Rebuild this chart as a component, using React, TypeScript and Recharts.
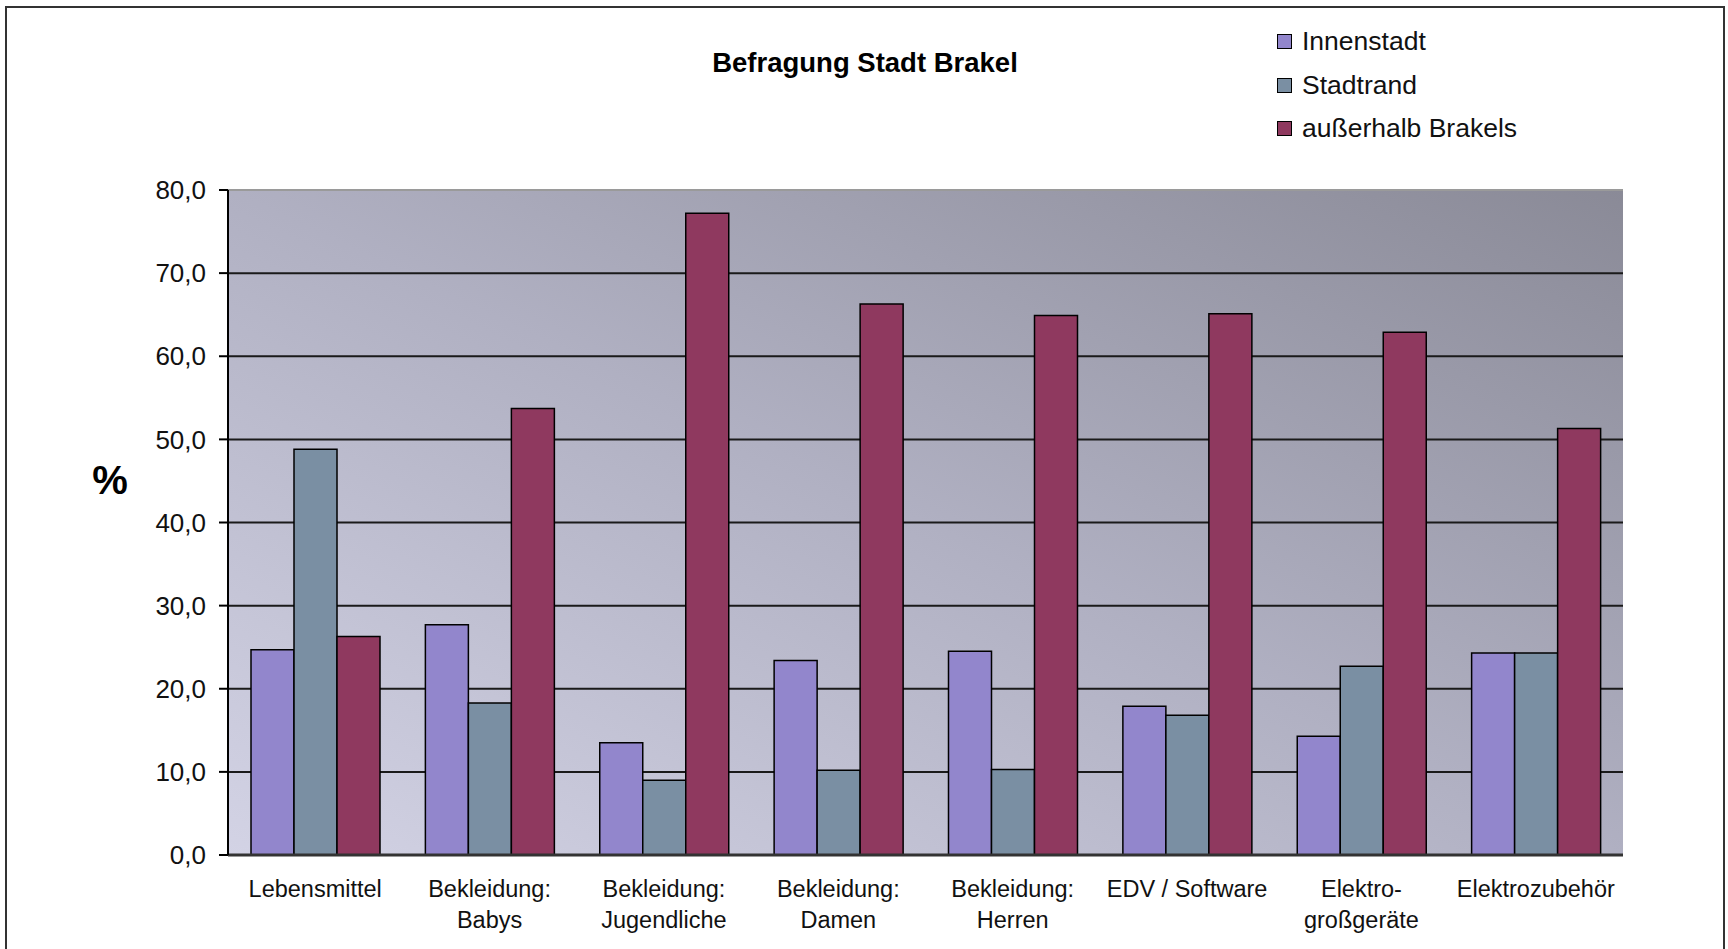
import { BarChart, Bar, XAxis, YAxis, CartesianGrid, Legend, ReferenceLine } from 'recharts'

const categories = [
  'Lebensmittel',
  'Bekleidung: Babys',
  'Bekleidung: Jugendliche',
  'Bekleidung: Damen',
  'Bekleidung: Herren',
  'EDV / Software',
  'Elektrogroßgeräte',
  'Elektrozubehör',
]
const categoryLines = [
  ['Lebensmittel'],
  ['Bekleidung:', 'Babys'],
  ['Bekleidung:', 'Jugendliche'],
  ['Bekleidung:', 'Damen'],
  ['Bekleidung:', 'Herren'],
  ['EDV / Software'],
  ['Elektro-', 'großgeräte'],
  ['Elektrozubehör'],
]
const innenstadt = [24.7, 27.7, 13.5, 23.4, 24.5, 17.9, 14.3, 24.3]
const stadtrand = [48.8, 18.3, 9.0, 10.2, 10.3, 16.8, 22.7, 24.3]
const ausserhalb = [26.3, 53.7, 77.2, 66.3, 64.9, 65.1, 62.9, 51.3]
const yTicks = [0, 10, 20, 30, 40, 50, 60, 70, 80]

const seriesInfo = [
  { key: 'innenstadt', name: 'Innenstadt', color: '#9286CC' },
  { key: 'stadtrand', name: 'Stadtrand', color: '#7A8FA3' },
  { key: 'ausserhalb', name: 'außerhalb Brakels', color: '#8F395F' },
]

const data = categories.map((c, i) => ({
  category: c,
  innenstadt: innenstadt[i],
  stadtrand: stadtrand[i],
  ausserhalb: ausserhalb[i],
}))

const FONT = '"Liberation Sans", Arial, sans-serif'

function CategoryTick({ x, y, index }: any) {
  const lines = categoryLines[index] ?? []
  return (
    <text x={x} y={y + 34} textAnchor="middle" fontSize={23.5} fill="#111" fontFamily={FONT}>
      {lines.map((l, i) => (
        <tspan key={i} x={x} dy={i === 0 ? 0 : 31}>{l}</tspan>
      ))}
    </text>
  )
}

function LegendBox() {
  return (
    <div style={{ fontFamily: FONT, fontSize: 26.5, color: '#111' }}>
      {seriesInfo.map((s) => (
        <div key={s.key} style={{ display: 'flex', alignItems: 'center', height: 43.5 }}>
          <span style={{ width: 15, height: 15, background: s.color, border: '1.5px solid #000', boxSizing: 'border-box', marginRight: 10 }} />
          <span>{s.name}</span>
        </div>
      ))}
    </div>
  )
}

export default function App() {
  return (
    <div style={{ position: 'absolute', left: 0, top: 0, width: 1728, height: 949, overflow: 'hidden', background: '#fff' }}>
      <div style={{ position: 'absolute', left: 5, top: 6, width: 1720, height: 1000, border: '2px solid #333', boxSizing: 'border-box' }} />
      <div style={{ position: 'absolute', left: 565, width: 600, top: 47, textAlign: 'center', fontFamily: FONT, fontWeight: 'bold', fontSize: 27.5 }}>
        Befragung Stadt Brakel
      </div>
      <div style={{ position: 'absolute', left: 90, width: 40, top: 458, textAlign: 'center', fontFamily: FONT, fontWeight: 'bold', fontSize: 40 }}>
        %
      </div>
      <div style={{ position: 'absolute', left: 0, top: 0 }}>
        <BarChart
          width={1728}
          height={949}
          data={data}
          margin={{ top: 190, right: 105, left: 0, bottom: 0 }}
          barCategoryGap={23}
          barGap={0}
        >
          <defs>
            <linearGradient id="plotBg" x1="0" y1="1" x2="1" y2="0">
              <stop offset="0%" stopColor="#D3D3E5" />
              <stop offset="50%" stopColor="#B0B0C2" />
              <stop offset="100%" stopColor="#8A8A97" />
            </linearGradient>
          </defs>
          <CartesianGrid
            vertical={false}
            fill="url(#plotBg)"
            fillOpacity={1}
            stroke="#1a1a1a"
            strokeWidth={2}
            horizontalValues={[10, 20, 30, 40, 50, 60, 70]}
          />
          <ReferenceLine y={80} stroke="#9a9a9a" strokeWidth={2} />
          <XAxis
            dataKey="category"
            height={94}
            interval={0}
            tickLine={false}
            axisLine={{ stroke: '#333', strokeWidth: 3 }}
            tick={<CategoryTick />}
          />
          <YAxis
            width={228}
            domain={[0, 80]}
            ticks={yTicks}
            interval={0}
            tickSize={9}
            tickMargin={13}
            tickFormatter={(v: number) => v.toFixed(1).replace('.', ',')}
            tick={{ fontSize: 26, fill: '#111', fontFamily: FONT }}
            tickLine={{ stroke: '#000', strokeWidth: 2 }}
            axisLine={{ stroke: '#000', strokeWidth: 2 }}
          />
          <Legend
            layout="vertical"
            verticalAlign="middle"
            align="center"
            content={<LegendBox />}
            wrapperStyle={{ position: 'absolute', left: 1277, top: 20, width: 300 }}
          />
          {seriesInfo.map((s) => (
            <Bar
              key={s.key}
              dataKey={s.key}
              name={s.name}
              fill={s.color}
              stroke="#000"
              strokeWidth={1.5}
              isAnimationActive={false}
            />
          ))}
        </BarChart>
      </div>
    </div>
  )
}
